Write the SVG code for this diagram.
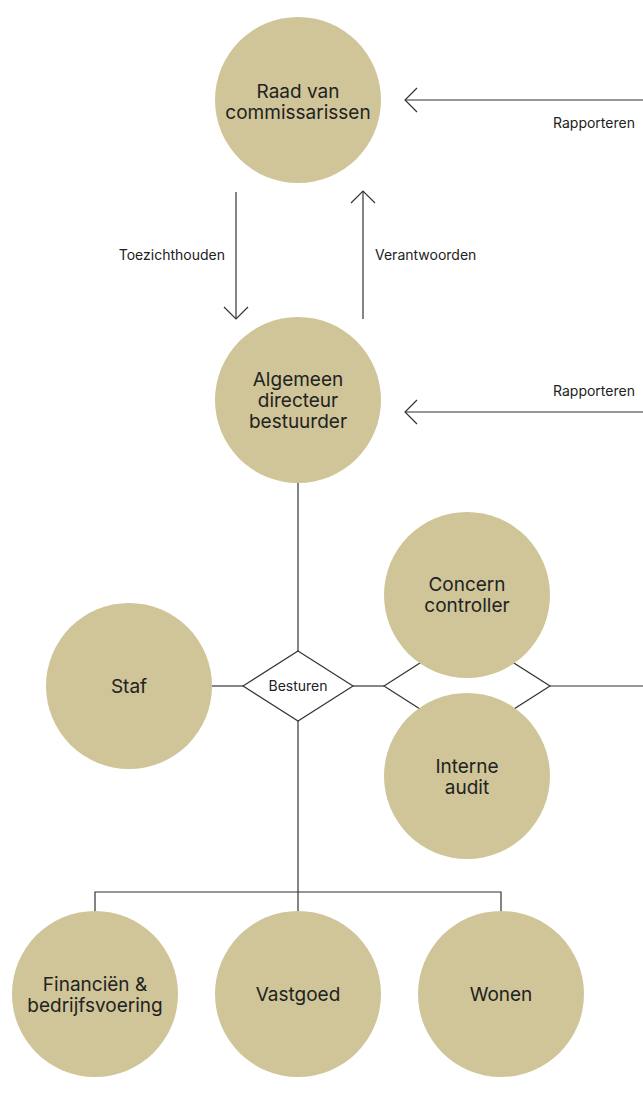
<svg xmlns="http://www.w3.org/2000/svg" width="643" height="1103" viewBox="0 0 643 1103">
  <style>
    .node { fill: #cfc598; }
    .nlabel { font-family: Inter, "Liberation Sans", sans-serif; font-size: 19px; fill: #222; text-anchor: middle; }
    .elabel { font-family: Inter, "Liberation Sans", sans-serif; font-size: 14px; fill: #222; }
    .line { stroke: #333; stroke-width: 1.2; fill: none; }
  </style>
  <defs>
    <!-- open chevron arrowhead; tip at the line end -->
    <marker id="arrow" viewBox="0 0 14 26" refX="13" refY="13" markerWidth="14" markerHeight="26" markerUnits="userSpaceOnUse" orient="auto">
      <path d="M1,1 L13,13 L1,25" fill="none" stroke="#333" stroke-width="1.2"/>
    </marker>
  </defs>

  <!-- connectors (drawn first, circles sit on top) -->
  <g id="connectors">
    <!-- reporting lines entering from the right -->
    <line class="line" x1="643" y1="100" x2="405" y2="100" marker-end="url(#arrow)"/>
    <text class="elabel" x="553" y="128">Rapporteren</text>
    <line class="line" x1="643" y1="412" x2="405" y2="412" marker-end="url(#arrow)"/>
    <text class="elabel" x="553" y="396">Rapporteren</text>

    <!-- supervision / accountability -->
    <line class="line" x1="236" y1="192" x2="236" y2="319" marker-end="url(#arrow)"/>
    <text class="elabel" x="225" y="260" text-anchor="end">Toezichthouden</text>
    <line class="line" x1="363" y1="319" x2="363" y2="191" marker-end="url(#arrow)"/>
    <text class="elabel" x="375" y="260">Verantwoorden</text>

    <!-- governance spine -->
    <line class="line" x1="298" y1="483" x2="298" y2="651"/>
    <line class="line" x1="298" y1="721" x2="298" y2="892"/>
    <line class="line" x1="212" y1="686" x2="243" y2="686"/>
    <line class="line" x1="353" y1="686" x2="384" y2="686"/>
    <line class="line" x1="550" y1="686" x2="643" y2="686"/>

    <!-- Besturen decision diamond -->
    <polygon class="line" points="298,651 353,686 298,721 243,686"/>
    <text class="elabel" x="298" y="691" text-anchor="middle">Besturen</text>

    <!-- diamond joining controller and audit -->
    <polygon class="line" points="467,633 550,686 467,739 384,686"/>

    <!-- bottom distribution bar -->
    <polyline class="line" points="95,911 95,892 501,892 501,911"/>
    <line class="line" x1="298" y1="892" x2="298" y2="911"/>
  </g>

  <g id="raad">
    <circle class="node" cx="298" cy="100" r="83"/>
    <text class="nlabel" x="298" y="98">Raad van</text>
    <text class="nlabel" x="298" y="119">commissarissen</text>
  </g>

  <g id="directeur">
    <circle class="node" cx="298" cy="400" r="83"/>
    <text class="nlabel" x="298" y="386">Algemeen</text>
    <text class="nlabel" x="298" y="407">directeur</text>
    <text class="nlabel" x="298" y="428">bestuurder</text>
  </g>

  <g id="staf">
    <circle class="node" cx="129" cy="686" r="83"/>
    <text class="nlabel" x="129" y="693">Staf</text>
  </g>

  <g id="controller">
    <circle class="node" cx="467" cy="595" r="83"/>
    <text class="nlabel" x="467" y="591">Concern</text>
    <text class="nlabel" x="467" y="612">controller</text>
  </g>

  <g id="audit">
    <circle class="node" cx="467" cy="776" r="83"/>
    <text class="nlabel" x="467" y="773">Interne</text>
    <text class="nlabel" x="467" y="794">audit</text>
  </g>

  <g id="financien">
    <circle class="node" cx="95" cy="994" r="83"/>
    <text class="nlabel" x="95" y="991">Financiën &amp;</text>
    <text class="nlabel" x="95" y="1012">bedrijfsvoering</text>
  </g>

  <g id="vastgoed">
    <circle class="node" cx="298" cy="994" r="83"/>
    <text class="nlabel" x="298" y="1001">Vastgoed</text>
  </g>

  <g id="wonen">
    <circle class="node" cx="501" cy="994" r="83"/>
    <text class="nlabel" x="501" y="1001">Wonen</text>
  </g>
</svg>
